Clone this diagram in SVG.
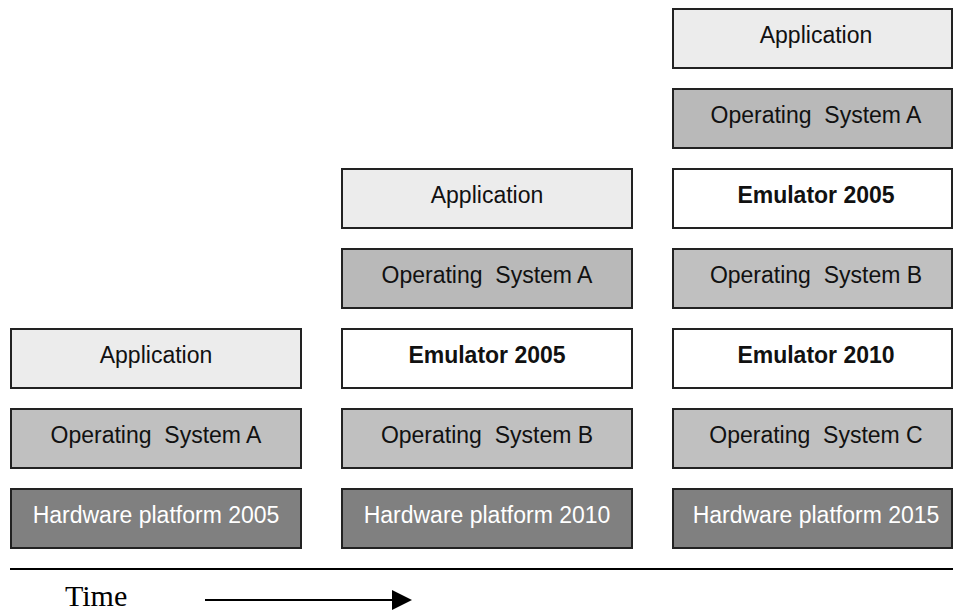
<svg xmlns="http://www.w3.org/2000/svg" width="960" height="613" viewBox="0 0 960 613">
<style>
  .box { stroke: #222; stroke-width: 2; }
  .app { fill: #ececec; }
  .os { fill: #c0c0c0; }
  .osa { fill: #b9b9b9; }
  .emu { fill: #ffffff; }
  .hw { fill: #808080; }
  text { font-family: "Liberation Sans", Arial, sans-serif; font-size: 23px; text-anchor: middle; fill: #111; }
  .b { font-weight: bold; }
  .w { fill: #ffffff; }
  .time { font-family: "Liberation Serif", "Times New Roman", serif; font-size: 30px; text-anchor: start; fill: #000; }
</style>
<rect width="960" height="613" fill="#ffffff"/>

<!-- Column 1 (2005) -->
<g id="c1-app"><rect class="box app" x="11" y="329" width="290" height="59"/><text x="156" y="363">Application</text></g>
<g id="c1-os"><rect class="box os" x="11" y="409" width="290" height="59"/><text x="156" y="443" xml:space="preserve">Operating  System A</text></g>
<g id="c1-hw"><rect class="box hw" x="11" y="489" width="290" height="59"/><text class="w" x="156" y="523">Hardware platform 2005</text></g>

<!-- Column 2 (2010) -->
<g id="c2-app"><rect class="box app" x="342" y="169" width="290" height="59"/><text x="487" y="203">Application</text></g>
<g id="c2-osa"><rect class="box osa" x="342" y="249" width="290" height="59"/><text x="487" y="283" xml:space="preserve">Operating  System A</text></g>
<g id="c2-emu"><rect class="box emu" x="342" y="329" width="290" height="59"/><text class="b" x="487" y="363">Emulator 2005</text></g>
<g id="c2-os"><rect class="box os" x="342" y="409" width="290" height="59"/><text x="487" y="443" xml:space="preserve">Operating  System B</text></g>
<g id="c2-hw"><rect class="box hw" x="342" y="489" width="290" height="59"/><text class="w" x="487" y="523">Hardware platform 2010</text></g>

<!-- Column 3 (2015) -->
<g id="c3-app"><rect class="box app" x="673" y="9" width="279" height="59"/><text x="816" y="43">Application</text></g>
<g id="c3-osa"><rect class="box osa" x="673" y="89" width="279" height="59"/><text x="816" y="123" xml:space="preserve">Operating  System A</text></g>
<g id="c3-emu05"><rect class="box emu" x="673" y="169" width="279" height="59"/><text class="b" x="816" y="203">Emulator 2005</text></g>
<g id="c3-osb"><rect class="box os" x="673" y="249" width="279" height="59"/><text x="816" y="283" xml:space="preserve">Operating  System B</text></g>
<g id="c3-emu10"><rect class="box emu" x="673" y="329" width="279" height="59"/><text class="b" x="816" y="363">Emulator 2010</text></g>
<g id="c3-osc"><rect class="box os" x="673" y="409" width="279" height="59"/><text x="816" y="443" xml:space="preserve">Operating  System C</text></g>
<g id="c3-hw"><rect class="box hw" x="673" y="489" width="279" height="59"/><text class="w" x="816" y="523">Hardware platform 2015</text></g>

<!-- Timeline -->
<g id="connectors">
  <line x1="10" y1="569" x2="953" y2="569" stroke="#000" stroke-width="2"/>
  <line x1="205" y1="600" x2="394" y2="600" stroke="#000" stroke-width="2"/>
  <polygon points="392,590 412,600 392,610" fill="#000"/>
</g>
<g id="time-label"><text class="time" x="65" y="606">Time</text></g>
</svg>
